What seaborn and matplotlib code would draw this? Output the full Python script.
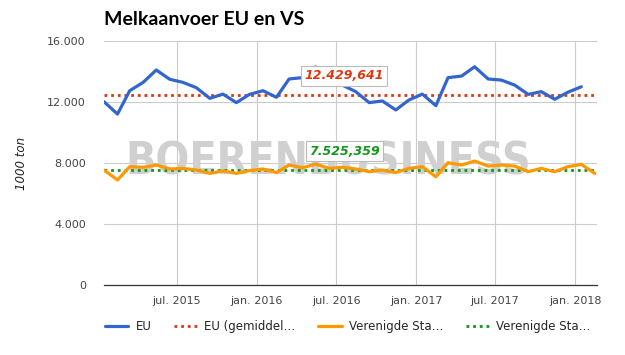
import pandas as pd
import numpy as np
import matplotlib
matplotlib.use('Agg')
import matplotlib.pyplot as plt
import matplotlib.dates as mdates
import seaborn as sns

# Monthly milk supply (1000 ton)
months_eu = pd.date_range('2015-01-01', periods=37, freq='MS') + pd.Timedelta(days=14)
months_vs = pd.date_range('2015-01-01', periods=38, freq='MS') + pd.Timedelta(days=14)

eu_values = [12020, 11210, 12740, 13290, 14100, 13490, 13290, 12940, 12240, 12520,
             11960, 12500, 12740, 12310, 13510, 13600, 14300, 13250, 13110, 12680,
             11960, 12070, 11480, 12130, 12520, 11760, 13600, 13700, 14310, 13510,
             13440, 13110, 12500, 12680, 12180, 12640, 13000]
vs_values = [7540, 6890, 7760, 7720, 7870, 7610, 7650, 7540, 7320, 7480,
             7320, 7500, 7610, 7370, 7870, 7690, 7930, 7650, 7720, 7610,
             7430, 7540, 7370, 7650, 7760, 7100, 8020, 7870, 8130, 7800,
             7870, 7800, 7430, 7650, 7430, 7760, 7910, 7320]

eu_mean = 12429.641
vs_mean = 7525.359

tick_dates = pd.to_datetime(['2015-07-01', '2016-01-01', '2016-07-01',
                             '2017-01-01', '2017-07-01', '2018-01-01'])
tick_labels = ['jul. 2015', 'jan. 2016', 'jul. 2016', 'jan. 2017', 'jul. 2017', 'jan. 2018']
y_ticks = [0, 4000, 8000, 12000, 16000]
y_labels = ['0', '4.000', '8.000', '12.000', '16.000']
legend_labels = ['EU', 'EU (gemiddel\u2026', 'Verenigde Sta\u2026', 'Verenigde Sta\u2026']

blue, red, orange, green = '#3366cc', '#dc3912', '#ff9900', '#109618'

sns.set_style('white')
plt.rcParams['font.family'] = ['DejaVu Sans']

fig = plt.figure(figsize=(6.25, 3.55), dpi=100)
ax = fig.add_axes([0.1664, 0.197, 0.7888, 0.6875])

df_eu = pd.DataFrame({'date': months_eu, 'value': eu_values})
df_vs = pd.DataFrame({'date': months_vs, 'value': vs_values})

sns.lineplot(data=df_eu, x='date', y='value', ax=ax, color=blue, linewidth=2.3,
             label=legend_labels[0], zorder=4)
ax.axhline(eu_mean, color=red, linewidth=2.0, linestyle=(0, (1, 1.4)),
           label=legend_labels[1], zorder=3)
sns.lineplot(data=df_vs, x='date', y='value', ax=ax, color=orange, linewidth=2.3,
             label=legend_labels[2], zorder=4)
ax.axhline(vs_mean, color=green, linewidth=2.0, linestyle=(0, (1, 1.4)),
           label=legend_labels[3], zorder=3)

ax.set_xlim(pd.Timestamp('2015-01-15'), pd.Timestamp('2018-02-20'))
ax.set_ylim(0, 16000)
ax.set_xticks(tick_dates)
ax.set_xticklabels(tick_labels)
ax.set_yticks(y_ticks)
ax.set_yticklabels(y_labels)
ax.tick_params(axis='both', length=0, labelsize=8, colors='#444444')
ax.tick_params(axis='x', pad=8)
ax.tick_params(axis='y', pad=13)
ax.grid(True, color='#cccccc', linewidth=0.8)
ax.set_axisbelow(True)
for side in ['top', 'right', 'left']:
    ax.spines[side].set_visible(False)
ax.spines['bottom'].set_color('#333333')
ax.spines['bottom'].set_linewidth(0.9)
ax.set_xlabel('')
ax.set_ylabel('1000 ton', fontsize=8.5, fontstyle='italic', color='#222222', labelpad=14)

# watermark
ax.text(0.455, 0.505, 'BOERENBUSINESS', transform=ax.transAxes, ha='center', va='center',
        fontsize=32, fontweight='bold', fontstretch='condensed', color='#d0d0d0', zorder=2,
        family=['DejaVu Sans'])

# mean value labels
box = dict(boxstyle='square,pad=0.25', facecolor='white', edgecolor='#bbbbbb', linewidth=0.8)
ax.text(0.406, 0.857, '12.429,641', transform=ax.transAxes, ha='left', va='center',
        fontsize=9, fontweight='bold', fontstyle='italic', color=red, bbox=box, zorder=6)
ax.text(0.416, 0.549, '7.525,359', transform=ax.transAxes, ha='left', va='center',
        fontsize=9, fontweight='bold', fontstyle='italic', color=green, bbox=box, zorder=6)

fig.text(0.1664, 0.944, 'Melkaanvoer EU en VS', fontsize=14, fontweight='bold',
         ha='left', va='center', color='#000000', family=['Lato', 'DejaVu Sans'])

handles, labels = ax.get_legend_handles_labels()
ax.legend_.remove()
fig.legend(handles, labels, loc='center left', bbox_to_anchor=(0.16, 0.079), ncol=4,
           frameon=False, fontsize=8.5, handlelength=2.0, handletextpad=0.6,
           columnspacing=1.9, borderaxespad=0)

fig.savefig('out.png', dpi=100)
